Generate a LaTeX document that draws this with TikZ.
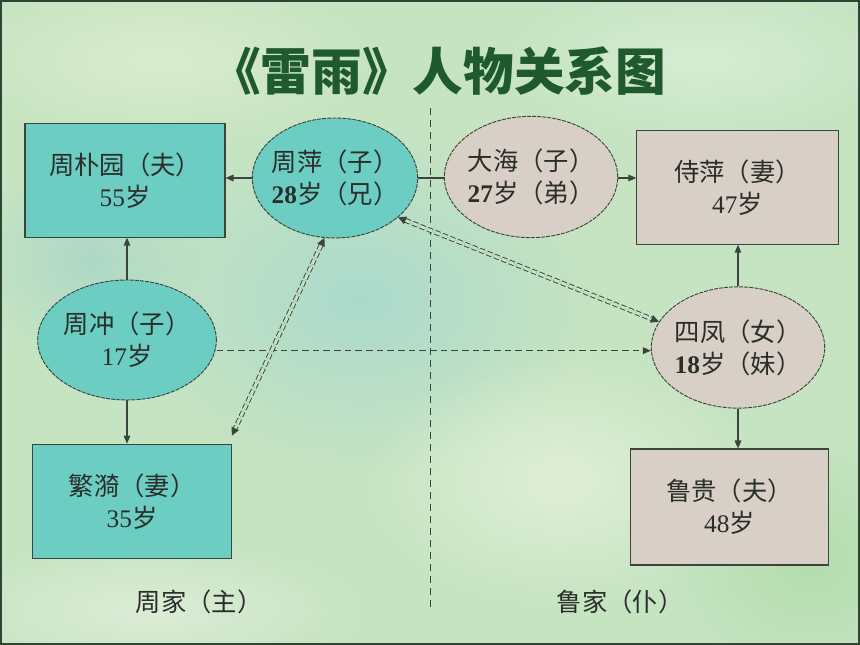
\documentclass[tikz,border=0pt]{standalone}
\usepackage{fontspec}
\setmainfont{Liberation Serif}
\newfontfamily\cjk{Noto Sans CJK SC}
\usetikzlibrary{shapes.geometric,arrows.meta,fadings}
\definecolor{bgc}{HTML}{C6E4C2}
\definecolor{tealc}{HTML}{6CCDC2}
\definecolor{beigec}{HTML}{D8CFC6}
\definecolor{linec}{HTML}{3A463C}
\definecolor{textc}{HTML}{2A2E2A}
\definecolor{titlec}{HTML}{1E5A2E}
\definecolor{framec}{HTML}{2E4434}
\definecolor{pblue}{HTML}{A6D8CE}
\definecolor{plight}{HTML}{E4F1DA}
\definecolor{plight2}{HTML}{DDEDD0}
\definecolor{plight3}{HTML}{D9EED6}
\definecolor{pgreen}{HTML}{B0DBA8}
\definecolor{plight4}{HTML}{E0EEDA}
\definecolor{pblue2}{HTML}{A9D6C8}
\tikzfading[name=softedge, inner color=transparent!15, outer color=transparent!100]
\tikzset{
  box/.style={draw=linec, line width=0.8pt, rectangle, minimum width=150pt, minimum height=85pt,
    font=\cjk\fontsize{19}{24}\selectfont, text=textc, align=center, inner sep=0pt},
  oval/.style={draw=linec, line width=0.7pt, ellipse, dash pattern=on 3pt off 0.8pt, inner sep=0pt},
  ovaltext/.style={font=\cjk\fontsize{19}{24}\selectfont, text=textc, align=left, inner sep=0pt},
  link/.style={draw=linec, line width=0.8pt, -{Triangle[length=6pt,width=5pt]}},
  plainlink/.style={draw=linec, line width=0.8pt},
  dashlink/.style={draw=linec, line width=0.8pt, dash pattern=on 5pt off 3pt, -{Triangle[length=6pt,width=5pt]}},
  duallink/.style={draw=linec, line width=0.7pt, double=bgc, double distance=2.2pt, dash pattern=on 4pt off 2pt,
    {Triangle[length=6pt,width=6pt]}-{Triangle[length=6pt,width=6pt]}},
  divider/.style={draw=linec, line width=0.7pt, dash pattern=on 5pt off 4pt},
  family/.style={font=\cjk\fontsize{19}{22}\selectfont, text=textc},
  patch/.style={path fading=softedge}
}
\begin{document}
\begin{tikzpicture}[x=0.75pt,y=-0.75pt]
\useasboundingbox (0,0) rectangle (860,645);
% background
\fill[bgc] (0,0) rectangle (860,645);
\fill[pblue, patch] (360,300) ellipse (230 and 170);
\fill[plight, patch] (560,480) ellipse (200 and 130);
\fill[plight2, patch] (160,60) ellipse (220 and 90);
\fill[plight3, patch] (700,60) ellipse (200 and 80);
\fill[pgreen, patch] (810,560) ellipse (140 and 120);
\fill[plight4, patch] (150,610) ellipse (220 and 70);
\fill[pblue2, patch] (90,260) ellipse (120 and 100);
\draw[framec, line width=3pt] (0,0) rectangle (860,645);

% title
\node[font=\cjk\bfseries\fontsize{38}{42}\selectfont, text=titlec] (title) at (438,71) {《雷雨》人物关系图};

% divider
\coordinate (divtop) at (430,108);
\coordinate (divbot) at (430,608);
\draw[divider] (divtop) -- (divbot);

% people
\node[box, fill=tealc] (pu) at (125,180.5) {周朴园（夫）\\{\rmfamily 55}岁};
\node[box, fill=tealc, minimum width=149pt, minimum height=86pt] (fanyi) at (132,501.5) {繁漪（妻）\\{\rmfamily 35}岁};
\node[box, fill=beigec, minimum width=151pt] (shiping) at (737.5,187.5) {侍萍（妻）\\{\rmfamily 47}岁};
\node[box, fill=beigec, minimum width=149pt, minimum height=87pt] (lugui) at (729.5,507) {鲁贵（夫）\\{\rmfamily 48}岁};

\node[oval, fill=tealc, minimum width=124pt, minimum height=90pt] (ping) at (335,178) {};
\node[ovaltext] (pingt) at (ping) {周萍（子）\\{\rmfamily\bfseries 28}岁（兄）};
\node[oval, fill=beigec, minimum width=130pt, minimum height=91pt] (hai) at (531,177) {};
\node[ovaltext] (hait) at (hai) {大海（子）\\{\rmfamily\bfseries 27}岁（弟）};
\node[oval, fill=tealc, minimum width=134pt, minimum height=90pt] (chong) at (127,340) {};
\node[ovaltext, align=center] (chongt) at (chong) {周冲（子）\\{\rmfamily 17}岁};
\node[oval, fill=beigec, minimum width=130pt, minimum height=91pt] (sifeng) at (738,347.5) {};
\node[ovaltext] (sifengt) at (sifeng) {四凤（女）\\{\rmfamily\bfseries 18}岁（妹）};

% family labels
\node[family] (zhoujia) at (199,602) {周家（主）};
\node[family] (lujia) at (620,602) {鲁家（仆）};

% connectors
\draw[link] (ping.west) -- (ping.west -| pu.east);
\draw[plainlink] (ping.east) -- (ping.east -| hai.west);
\draw[link] (hai.east |- ping.east) -- (ping.east -| shiping.west);
\draw[link] (chong.north) -- (chong.north |- pu.south);
\draw[link] (chong.south) -- (chong.south |- fanyi.north);
\draw[dashlink] ([yshift=-8pt]chong.east) -- ([yshift=-8pt]chong.east -| sifeng.west);
\draw[link] (sifeng.north) -- (sifeng.north |- shiping.south);
\draw[link] (sifeng.south) -- (sifeng.south |- lugui.north);
\draw[duallink] (ping.-100) -- ([yshift=6pt]fanyi.north east);
\draw[duallink] (ping.-32) -- (sifeng.162);
\end{tikzpicture}
\end{document}
